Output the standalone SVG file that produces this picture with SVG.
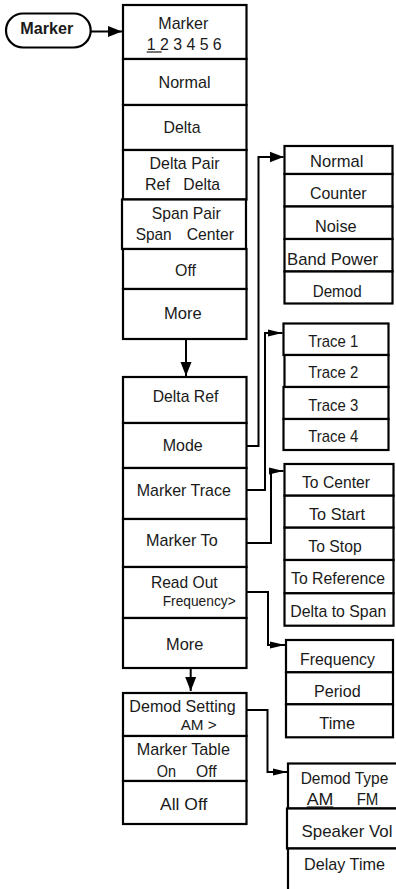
<svg xmlns="http://www.w3.org/2000/svg" width="396" height="889" viewBox="0 0 396 889">
<style>
.b{fill:#fff;stroke:#000;stroke-width:2.2}
.t{font-family:"Liberation Sans",Arial,sans-serif;font-size:17px;text-anchor:middle;fill:#1a1a1a}
.l{text-anchor:start}
.s{font-size:14.5px}
.bold{font-weight:bold;font-size:16.5px}
.c{fill:none;stroke:#000;stroke-width:2}
.u{stroke:#1a1a1a;stroke-width:1.2}
</style>
<defs>
<marker id="ah" markerUnits="userSpaceOnUse" markerWidth="15" markerHeight="12" refX="14" refY="6" orient="auto"><path d="M0,0.5 L14,6 L0,11.5 z" fill="#000"/></marker>
<marker id="ahs" markerUnits="userSpaceOnUse" markerWidth="16" markerHeight="8" refX="15" refY="4" orient="auto"><path d="M0,0.5 L15,4 L0,7.5 z" fill="#000"/></marker>
</defs>
<rect width="396" height="889" fill="#fff"/>
<g id="connectors">
<path class="c" d="M90.7,31.5 H122" marker-end="url(#ah)"/>
<path class="c" d="M186,339 V376" marker-end="url(#ah)"/>
<path class="c" d="M190.7,668 V691" marker-end="url(#ah)"/>
<path class="c" d="M246,446 H258.5 V157 H283.5" marker-end="url(#ah)"/>
<path class="c" d="M246,490 H265 V333 H282.5" marker-end="url(#ahs)"/>
<path class="c" d="M246,543 H271 V471 H283.5" marker-end="url(#ahs)"/>
<path class="c" d="M246,592 H268 V645 H285" marker-end="url(#ahs)"/>
<path class="c" d="M246,710 H267.5 V772 H287.5" marker-end="url(#ahs)"/>
</g>
<g id="marker-key"><rect class="b" x="6" y="13.5" width="84.7" height="34" rx="17"/><text class="t bold" x="46.7" y="34" textLength="53" lengthAdjust="spacingAndGlyphs">Marker</text></g>
<g id="m-marker"><rect class="b" x="123" y="5" width="123.5" height="54"/><text class="t" x="183.3" y="29" textLength="50" lengthAdjust="spacingAndGlyphs">Marker</text><text class="t" x="184.2" y="50" textLength="75" lengthAdjust="spacingAndGlyphs">1 2 3 4 5 6</text><line class="u" x1="146.7" y1="52" x2="161.7" y2="52"/></g>
<g id="m-normal"><rect class="b" x="123" y="59" width="123.5" height="46"/><text class="t" x="184.5" y="87.5" textLength="52" lengthAdjust="spacingAndGlyphs">Normal</text></g>
<g id="m-delta"><rect class="b" x="123" y="105" width="123.5" height="45"/><text class="t" x="182" y="133" textLength="37" lengthAdjust="spacingAndGlyphs">Delta</text></g>
<g id="m-deltapair"><rect class="b" x="123" y="150" width="123.5" height="49.5"/><text class="t" x="184.5" y="168.5" textLength="70" lengthAdjust="spacingAndGlyphs">Delta Pair</text><text class="t l" x="145" y="189.5" textLength="25" lengthAdjust="spacingAndGlyphs">Ref</text><text class="t l" x="183.3" y="189.5" textLength="36.7" lengthAdjust="spacingAndGlyphs">Delta</text></g>
<g id="m-spanpair"><rect class="b" x="122" y="199.5" width="124" height="49.5"/><text class="t" x="186.2" y="218.5" textLength="69" lengthAdjust="spacingAndGlyphs">Span Pair</text><text class="t l" x="135.7" y="240" textLength="36" lengthAdjust="spacingAndGlyphs">Span</text><text class="t l" x="186.7" y="240" textLength="47.3" lengthAdjust="spacingAndGlyphs">Center</text></g>
<g id="m-off"><rect class="b" x="123" y="249" width="123.5" height="40"/><text class="t" x="185.5" y="275.5" textLength="21" lengthAdjust="spacingAndGlyphs">Off</text></g>
<g id="m-more1"><rect class="b" x="123" y="289" width="123.5" height="50"/><text class="t" x="182.8" y="318.5" textLength="37.7" lengthAdjust="spacingAndGlyphs">More</text></g>
<g id="m-deltaref"><rect class="b" x="123" y="377" width="123.5" height="46"/><text class="t" x="185.5" y="401.5" textLength="65.7" lengthAdjust="spacingAndGlyphs">Delta Ref</text></g>
<g id="m-mode"><rect class="b" x="123" y="423" width="123.5" height="45"/><text class="t" x="182.7" y="450.5" textLength="40" lengthAdjust="spacingAndGlyphs">Mode</text></g>
<g id="m-markertrace"><rect class="b" x="123" y="468" width="123.5" height="51"/><text class="t" x="183.8" y="496" textLength="94.3" lengthAdjust="spacingAndGlyphs">Marker Trace</text></g>
<g id="m-markerto"><rect class="b" x="123" y="519" width="123.5" height="48"/><text class="t" x="181.8" y="546" textLength="71.7" lengthAdjust="spacingAndGlyphs">Marker To</text></g>
<g id="m-readout"><rect class="b" x="123" y="567" width="123.5" height="51"/><text class="t" x="184.3" y="587.5" textLength="66.7" lengthAdjust="spacingAndGlyphs">Read Out</text><text class="t s l" x="162.7" y="606" textLength="73" lengthAdjust="spacingAndGlyphs">Frequency&gt;</text></g>
<g id="m-more2"><rect class="b" x="123" y="618" width="123.5" height="50"/><text class="t" x="184.7" y="650" textLength="37.3" lengthAdjust="spacingAndGlyphs">More</text></g>
<g id="m-demodsetting"><rect class="b" x="123" y="693" width="123.5" height="43"/><text class="t" x="182.5" y="712" textLength="106.3" lengthAdjust="spacingAndGlyphs">Demod Setting</text><text class="t s l" x="180.7" y="730" textLength="36" lengthAdjust="spacingAndGlyphs">AM &gt;</text></g>
<g id="m-markertable"><rect class="b" x="123" y="736" width="123.5" height="45"/><text class="t" x="183.3" y="754.5" textLength="93.3" lengthAdjust="spacingAndGlyphs">Marker Table</text><text class="t l" x="156.7" y="776.5" textLength="19.3" lengthAdjust="spacingAndGlyphs">On</text><text class="t l" x="196" y="776.5" textLength="20.7" lengthAdjust="spacingAndGlyphs">Off</text></g>
<g id="m-alloff"><rect class="b" x="123" y="781" width="123.5" height="43"/><text class="t" x="183.7" y="809.5" textLength="47.3" lengthAdjust="spacingAndGlyphs">All Off</text></g>
<g id="s-normal"><rect class="b" x="284.5" y="146" width="108" height="28"/><text class="t" x="336.7" y="166.5" textLength="53.3" lengthAdjust="spacingAndGlyphs">Normal</text></g>
<g id="s-counter"><rect class="b" x="284.5" y="174" width="108" height="32.5"/><text class="t" x="338.3" y="198.5" textLength="56.7" lengthAdjust="spacingAndGlyphs">Counter</text></g>
<g id="s-noise"><rect class="b" x="284.5" y="206.5" width="108" height="32.5"/><text class="t" x="335.8" y="231.5" textLength="41.7" lengthAdjust="spacingAndGlyphs">Noise</text></g>
<g id="s-bandpower"><rect class="b" x="284.5" y="239" width="108" height="32.5"/><text class="t" x="332.5" y="265" textLength="91" lengthAdjust="spacingAndGlyphs">Band Power</text></g>
<g id="s-demod"><rect class="b" x="284.5" y="271.5" width="108" height="32"/><text class="t" x="337.2" y="297" textLength="49" lengthAdjust="spacingAndGlyphs">Demod</text></g>
<g id="s-trace1"><rect class="b" x="283.5" y="323.5" width="105" height="31.5"/><text class="t" x="333.3" y="346.5" textLength="50" lengthAdjust="spacingAndGlyphs">Trace 1</text></g>
<g id="s-trace2"><rect class="b" x="284.5" y="355" width="104" height="32"/><text class="t" x="333.3" y="378" textLength="50" lengthAdjust="spacingAndGlyphs">Trace 2</text></g>
<g id="s-trace3"><rect class="b" x="283.5" y="387" width="105" height="32"/><text class="t" x="333.3" y="410.5" textLength="50" lengthAdjust="spacingAndGlyphs">Trace 3</text></g>
<g id="s-trace4"><rect class="b" x="283.5" y="419" width="105" height="31"/><text class="t" x="333.3" y="442" textLength="50" lengthAdjust="spacingAndGlyphs">Trace 4</text></g>
<g id="s-tocenter"><rect class="b" x="284.5" y="464" width="109" height="31.7"/><text class="t" x="336" y="488" textLength="68" lengthAdjust="spacingAndGlyphs">To Center</text></g>
<g id="s-tostart"><rect class="b" x="284.5" y="495.7" width="109" height="32"/><text class="t" x="337" y="519.5" textLength="56" lengthAdjust="spacingAndGlyphs">To Start</text></g>
<g id="s-tostop"><rect class="b" x="284.5" y="527.7" width="109" height="32.3"/><text class="t" x="335" y="552" textLength="53.3" lengthAdjust="spacingAndGlyphs">To Stop</text></g>
<g id="s-toreference"><rect class="b" x="284.5" y="560" width="109" height="33.3"/><text class="t" x="338" y="584" textLength="94" lengthAdjust="spacingAndGlyphs">To Reference</text></g>
<g id="s-deltatospan"><rect class="b" x="284.5" y="593.3" width="109" height="32.4"/><text class="t" x="338.3" y="616.5" textLength="96" lengthAdjust="spacingAndGlyphs">Delta to Span</text></g>
<g id="s-frequency"><rect class="b" x="286" y="640" width="107" height="32.3"/><text class="t" x="337.5" y="665" textLength="75" lengthAdjust="spacingAndGlyphs">Frequency</text></g>
<g id="s-period"><rect class="b" x="286" y="672.3" width="107" height="32"/><text class="t" x="337.3" y="696.5" textLength="46.7" lengthAdjust="spacingAndGlyphs">Period</text></g>
<g id="s-time"><rect class="b" x="286" y="704.3" width="107" height="33"/><text class="t" x="337.2" y="729" textLength="35.7" lengthAdjust="spacingAndGlyphs">Time</text></g>
<g id="s-demodtype"><rect class="b" x="288" y="763.5" width="120" height="45"/><text class="t" x="344.5" y="783.5" textLength="87.7" lengthAdjust="spacingAndGlyphs">Demod Type</text><text class="t l" x="306.7" y="805" textLength="26.7" lengthAdjust="spacingAndGlyphs">AM</text><text class="t l" x="356.7" y="805" textLength="21.7" lengthAdjust="spacingAndGlyphs">FM</text><line class="u" x1="306.7" y1="807" x2="333.3" y2="807"/></g>
<g id="s-speakervol"><rect class="b" x="287" y="808.5" width="120" height="40"/><text class="t" x="347" y="836.5" textLength="91" lengthAdjust="spacingAndGlyphs">Speaker Vol</text></g>
<g id="s-delaytime"><rect class="b" x="288" y="848.5" width="120" height="60"/><text class="t" x="344.5" y="869.5" textLength="81" lengthAdjust="spacingAndGlyphs">Delay Time</text></g>
</svg>
